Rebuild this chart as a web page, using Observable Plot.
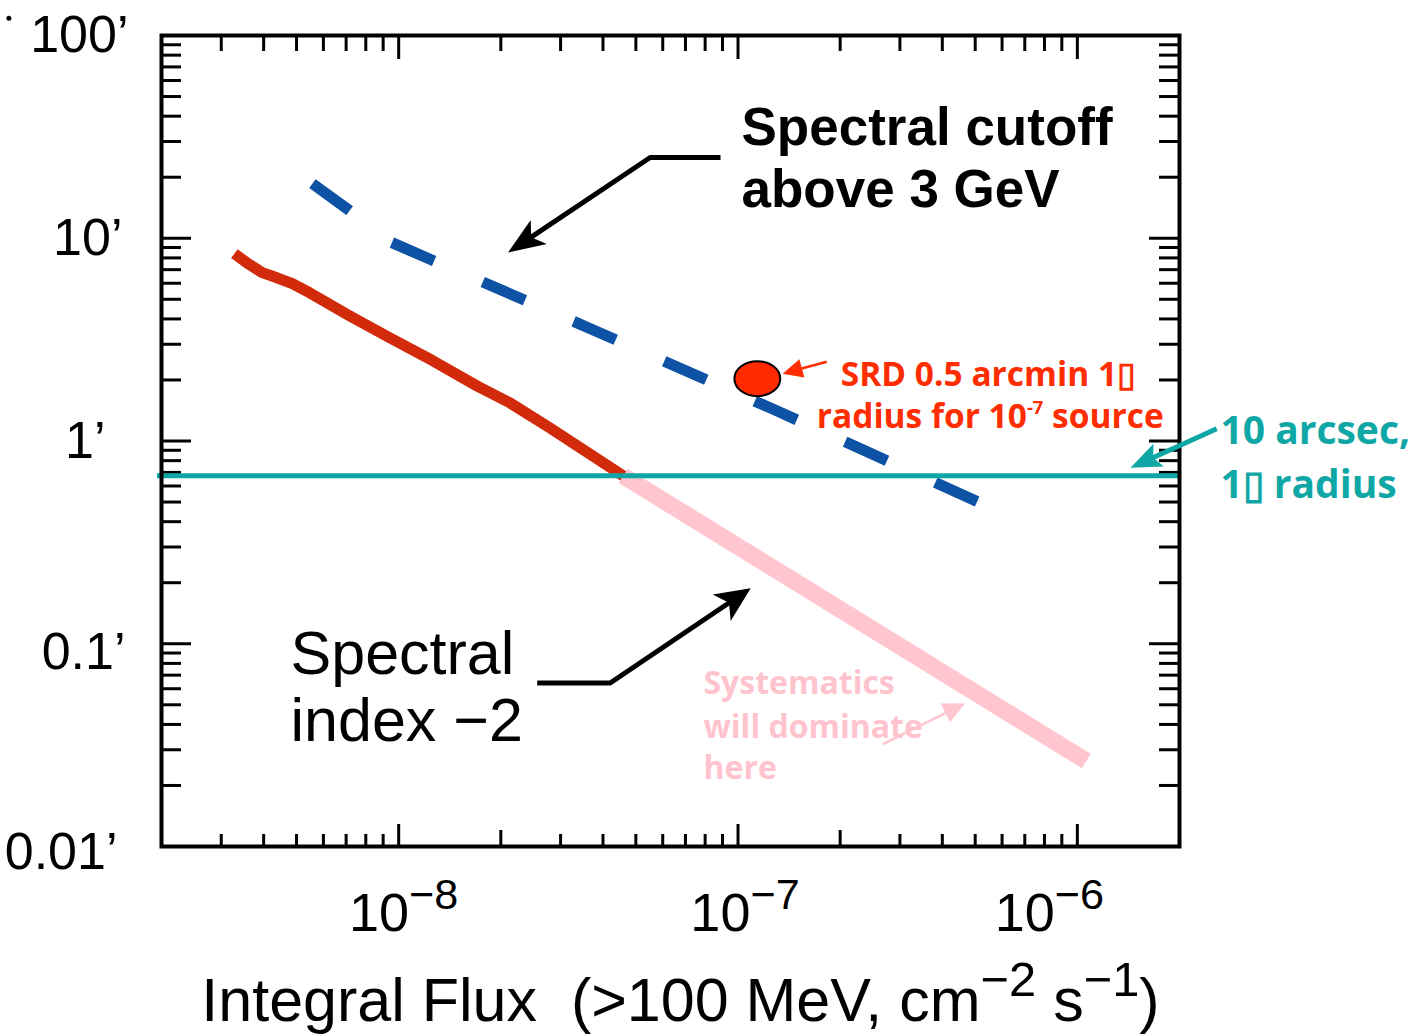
<!DOCTYPE html>
<html>
<head>
<meta charset="utf-8">
<script src="https://cdn.jsdelivr.net/npm/d3@7"></script>
<script src="https://cdn.jsdelivr.net/npm/@observablehq/plot@0.6"></script>
<style>
  html, body { margin: 0; padding: 0; background: #fff; }
  #chart svg { display: block; }
  #chart svg text { white-space: pre; }
</style>
</head>
<body>
<div id="chart"></div>
<script>
// ---------------- data ----------------
const yTickValues = [100, 10, 1, 0.1, 0.01];
const yTickLabels = ["100’", "10’", "1’", "0.1’", "0.01’"];
const xTickValues = [1e-8, 1e-7, 1e-6];
const xTickLabels = ["10^{−8}", "10^{−7}", "10^{−6}"];
const xDecadeStarts = [1e-9, 1e-8, 1e-7, 1e-6];
const yDecadeStarts = [0.01, 0.1, 1, 10];
const minorMultipliers = [2, 3, 4, 5, 6, 7, 8, 9];
const xTitle = "Integral Flux  (>100 MeV, cm^{−2} s^{−1})";

// Spectral index -2 (red, solid), continuing in the systematics-dominated regime (pink)
const redFlux   = [3.28e-9, 3.56e-9, 3.96e-9, 4.36e-9, 4.86e-9, 5.46e-9, 7.16e-9, 9.41e-9, 1.26e-8, 1.70e-8, 2.13e-8, 2.79e-8, 4.59e-8];
const redArcmin = [8.40, 7.59, 6.77, 6.40, 5.97, 5.39, 4.15, 3.23, 2.49, 1.87, 1.54, 1.16, 0.673];
const pinkFlux   = [4.59e-8, 1.063e-6];
const pinkArcmin = [0.673, 0.0264];
// Spectral cutoff above 3 GeV (blue, dashed)
const blueFlux   = [5.57e-9, 7.16e-9, 9.54e-9, 3.79e-8, 1.30e-7, 5.17e-7];
const blueArcmin = [18.6, 13.7, 9.52, 3.50, 1.41, 0.495];
// 10 arcsec level and SRD requirement point
const tealArcmin = [0.673];
const srdFlux = [1.14e-7];
const srdArcmin = [2.03];
// stray bullet mark at top-left
const bulletFlux = [7.1e-10];
const bulletArcmin = [121.7];

// annotation arrows (data coordinates: flux, arcmin)
const arrowNames  = ["cutoff", "index", "srd", "tenArcsec", "systematics"];
const arrowFlux   = [[8.88e-8, 5.51e-8, 2.10e-8], [2.56e-8, 4.20e-8, 1.09e-7], [1.826e-7, 1.353e-7], [2.574e-6, 1.434e-6], [2.673e-7, 4.67e-7]];
const arrowArcmin = [[25.03, 25.03, 8.50], [0.0640, 0.0640, 0.188], [2.46, 2.149], [1.149, 0.7375], [0.03197, 0.05095]];

// annotation texts (anchor at left baseline, data coordinates)
const cutoffText   = ["Spectral cutoff", "above 3 GeV"];
const cutoffFlux   = [1.024e-7, 1.024e-7];
const cutoffArcmin = [28.7, 14.2];
const indexText    = ["Spectral", "index −2"];
const indexFlux    = [4.80e-9, 4.80e-9];
const indexArcmin  = [0.0709, 0.0330];
const srdText      = ["SRD 0.5 arcmin 1▯", "radius for 10^s{-7} source"];
const srdTextFlux  = [2.008e-7, 1.706e-7];
const srdTextArc   = [1.873, 1.162];
const tealText     = ["10 arcsec,", "1▯ radius"];
const tealTextFlux = [2.64e-6, 2.64e-6];
const tealTextArc  = [0.9687, 0.524];
const sysText      = ["Systematics", "will dominate", "here"];
const sysFlux      = [7.91e-8, 7.91e-8, 7.91e-8];
const sysArcmin    = [0.05644, 0.03422, 0.02147];

// ---------------- layout / style ----------------
const W = 1422, H = 1036;
const mL = 161, mR = 243, mT = 35, mB = 190;
const frameW = W - mL - mR, frameH = H - mT - mB;
const xDomain = [2e-9, 2e-6];
const yDomain = [0.01, 100];
const sans = "'Liberation Sans', Arial, Helvetica, sans-serif";
const comic = "'Open Sans', 'Noto Sans', sans-serif";
const C = {
  red: "#d22b0b", redText: "#ff2d00", blue: "#0e52a6", teal: "#0fa7a6",
  pink: "#ffc6cf", pinkText: "#ffc3cd", black: "#000"
};
const arrowStyle = {
  cutoff:      {color: C.black, width: 5,   L: 37, W: 14.5, notch: 0.75},
  index:       {color: C.black, width: 5,   L: 35, W: 16,   notch: 0.75},
  srd:         {color: C.redText, width: 2.5, L: 20, W: 9.5, notch: 1},
  tenArcsec:   {color: C.teal,  width: 5,   L: 31, W: 12.5, notch: 0.8},
  systematics: {color: C.pink,  width: 2.5, L: 22, W: 10.5, notch: 1}
};
const xLabelNudge = [5, 7, -28];
const yLabelNudge = [[-33, 0], [-39, 0], [-56, 0], [-36, 9], [-44, 6]];

// ---------------- derived tables ----------------
const toRows = (fx, fy, extra) => fx.map((f, i) => ({flux: f, arcmin: fy[i], ...(extra ? {label: extra[i]} : {})}));
const redData = toRows(redFlux, redArcmin);
const pinkData = toRows(pinkFlux, pinkArcmin);
const blueData = toRows(blueFlux, blueArcmin);

const xMinorAll = xDecadeStarts.flatMap(d => minorMultipliers.map(k => ({v: k * d, k})))
  .filter(o => o.v > xDomain[0] * 1.01 && o.v < xDomain[1] * 0.99);
const xMinorTwo = xMinorAll.filter(o => o.k === 2).map(o => o.v);
const xMinorRest = xMinorAll.filter(o => o.k !== 2).map(o => o.v);
const xMinorValues = xMinorAll.map(o => o.v);
const yMajor = [0.1, 1, 10];
const yMinor = yDecadeStarts.flatMap(d => minorMultipliers.map(k => k * d));

// scales equivalent to the plot's, used only to orient arrowheads
const X = d3.scaleLog().domain(xDomain).range([mL, W - mR]);
const Y = d3.scaleLog().domain(yDomain).range([H - mB, mT]);

function headSymbol(L, Wd, notch, ang) {
  const c = Math.cos(ang), s = Math.sin(ang);
  const rot = ([px, py]) => [px * c - py * s, px * s + py * c];
  const pts = [[0, 0], [Wd, L], [0, L * notch], [-Wd, L]].map(rot);
  return {draw(ctx) {
    ctx.moveTo(pts[0][0], pts[0][1]);
    for (let i = 1; i < pts.length; i++) ctx.lineTo(pts[i][0], pts[i][1]);
    ctx.closePath();
  }};
}
const ellipseSymbol = {draw(ctx, size) {
  const ry = Math.sqrt(size / Math.PI), rx = ry * 1.31, k = 0.5523;
  ctx.moveTo(rx, 0);
  ctx.bezierCurveTo(rx, ry * k, rx * k, ry, 0, ry);
  ctx.bezierCurveTo(-rx * k, ry, -rx, ry * k, -rx, 0);
  ctx.bezierCurveTo(-rx, -ry * k, -rx * k, -ry, 0, -ry);
  ctx.bezierCurveTo(rx * k, -ry, rx, -ry * k, rx, 0);
  ctx.closePath();
}};

const arrowMarks = arrowNames.flatMap((name, i) => {
  const st = arrowStyle[name];
  const fx = arrowFlux[i], fy = arrowArcmin[i], n = fx.length;
  const p = [X(fx[n - 2]), Y(fy[n - 2])], t = [X(fx[n - 1]), Y(fy[n - 1])];
  const dx = t[0] - p[0], dy = t[1] - p[1], len = Math.hypot(dx, dy);
  const ux = dx / len, uy = dy / len;
  const back = st.L * st.notch * 0.6;
  const endX = X.invert(t[0] - ux * back), endY = Y.invert(t[1] - uy * back);
  const shaft = fx.slice(0, n - 1).map((f, j) => ({flux: f, arcmin: fy[j]}));
  shaft.push({flux: endX, arcmin: endY});
  const ang = Math.atan2(dx, -dy);
  return [
    Plot.line(shaft, {x: "flux", y: "arcmin", stroke: st.color, strokeWidth: st.width, strokeLinecap: "butt", strokeLinejoin: "miter"}),
    Plot.dot([{flux: fx[n - 1], arcmin: fy[n - 1]}], {x: "flux", y: "arcmin", r: 5, symbol: headSymbol(st.L, st.W, st.notch, ang), fill: st.color, stroke: "none"})
  ];
});

const textLines = (labels, fx, fy, opts) =>
  Plot.text(toRows(fx, fy, labels), {x: "flux", y: "arcmin", text: "label", textAnchor: "start", lineAnchor: "bottom", ...opts});

const tick = {stroke: C.black, strokeWidth: 3};

const chart = Plot.plot({
  width: W, height: H,
  marginLeft: mL, marginRight: mR, marginTop: mT, marginBottom: mB,
  x: {type: "log", domain: xDomain, axis: null},
  y: {type: "log", domain: yDomain, axis: null},
  style: {background: "white", fontFamily: sans, overflow: "visible"},
  marks: [
    // ticks (inward, all four sides)
    Plot.tickX(xTickValues, {x: d => d, insetTop: frameH - 22, ...tick}),
    Plot.tickX(xMinorTwo, {x: d => d, insetTop: frameH - 16, ...tick}),
    Plot.tickX(xMinorRest, {x: d => d, insetTop: frameH - 12, ...tick}),
    Plot.tickX(xTickValues, {x: d => d, insetBottom: frameH - 24, ...tick}),
    Plot.tickX(xMinorValues, {x: d => d, insetBottom: frameH - 16, ...tick}),
    Plot.tickY(yMajor, {y: d => d, insetRight: frameW - 30, ...tick}),
    Plot.tickY(yMinor, {y: d => d, insetRight: frameW - 20, ...tick}),
    Plot.tickY(yMajor, {y: d => d, insetLeft: frameW - 30, ...tick}),
    Plot.tickY(yMinor, {y: d => d, insetLeft: frameW - 20, ...tick}),

    // curves
    Plot.line(pinkData, {x: "flux", y: "arcmin", stroke: C.pink, strokeWidth: 17, strokeLinecap: "butt"}),
    Plot.line(redData, {x: "flux", y: "arcmin", stroke: C.red, strokeWidth: 11, strokeLinecap: "butt", strokeLinejoin: "round"}),
    Plot.line(blueData, {x: "flux", y: "arcmin", stroke: C.blue, strokeWidth: 11, strokeLinecap: "butt", strokeDasharray: "46,53"}),
    Plot.ruleY(tealArcmin, {y: d => d, stroke: C.teal, strokeWidth: 5, insetLeft: -4}),

    Plot.frame({stroke: C.black, strokeWidth: 4}),

    // SRD point
    Plot.dot(toRows(srdFlux, srdArcmin), {x: "flux", y: "arcmin", r: 17.5, symbol: ellipseSymbol, fill: "#ff2a00", stroke: C.black, strokeWidth: 2}),
    Plot.dot(toRows(bulletFlux, bulletArcmin), {x: "flux", y: "arcmin", r: 2.5, fill: C.black}),

    // tick labels
    ...yTickValues.map((v, i) => Plot.text([v], {y: d => d, frameAnchor: "left", text: () => yTickLabels[i], textAnchor: "end", lineAnchor: "middle", dx: yLabelNudge[i][0], dy: yLabelNudge[i][1], fontSize: 52, fontFamily: sans, fill: C.black})),
    ...xTickValues.map((v, i) => Plot.text([v], {x: d => d, frameAnchor: "bottom", text: () => xTickLabels[i], textAnchor: "middle", lineAnchor: "bottom", dx: xLabelNudge[i], dy: 84, fontSize: 54, fontFamily: sans, fill: C.black})),
    Plot.text([xTitle], {frameAnchor: "bottom", text: d => d, textAnchor: "middle", lineAnchor: "bottom", dx: 10, dy: 174, fontSize: 61, fontFamily: sans, fill: C.black}),

    // annotations
    ...arrowMarks,
    textLines(cutoffText, cutoffFlux, cutoffArcmin, {fontSize: 53, fontWeight: "bold", fontFamily: sans, fill: C.black}),
    textLines(indexText, indexFlux, indexArcmin, {fontSize: 61, fontFamily: sans, fill: C.black}),
    textLines(srdText, srdTextFlux, srdTextArc, {fontSize: 33.5, fontWeight: 700, fontFamily: comic, fill: C.redText}),
    textLines(tealText, tealTextFlux, tealTextArc, {fontSize: 39, fontWeight: 700, fontFamily: comic, fill: C.teal}),
    textLines(sysText, sysFlux, sysArcmin, {fontSize: 32, fontWeight: 700, fontFamily: comic, fill: C.pinkText})
  ]
});

document.getElementById("chart").appendChild(chart);

// turn ^{...} (and ^s{...} for small) markers into raised tspans
function superscripts(root) {
  const NS = "http://www.w3.org/2000/svg";
  root.querySelectorAll("text").forEach(node => {
    if (node.querySelector("tspan")) return;
    const raw = node.textContent;
    if (!raw.includes("^")) return;
    node.textContent = "";
    const add = (txt, attrs) => {
      const t = document.createElementNS(NS, "tspan");
      for (const k in attrs) t.setAttribute(k, attrs[k]);
      t.textContent = txt;
      node.appendChild(t);
    };
    const re = /\^(s?)\{([^}]*)\}/g;
    let last = 0, m, pending = null;
    while ((m = re.exec(raw))) {
      const [k, shift] = m[1] ? [0.55, 0.42] : [0.8, 0.4];
      if (m.index > last) add(raw.slice(last, m.index), pending ? {dy: pending} : {});
      add(m[2], {"font-size": `${k * 100}%`, dy: `${-shift / k}em`});
      pending = `${shift}em`;
      last = m.index + m[0].length;
    }
    if (last < raw.length) add(raw.slice(last), pending ? {dy: pending} : {});
  });
}
superscripts(chart);
</script>
</body>
</html>
